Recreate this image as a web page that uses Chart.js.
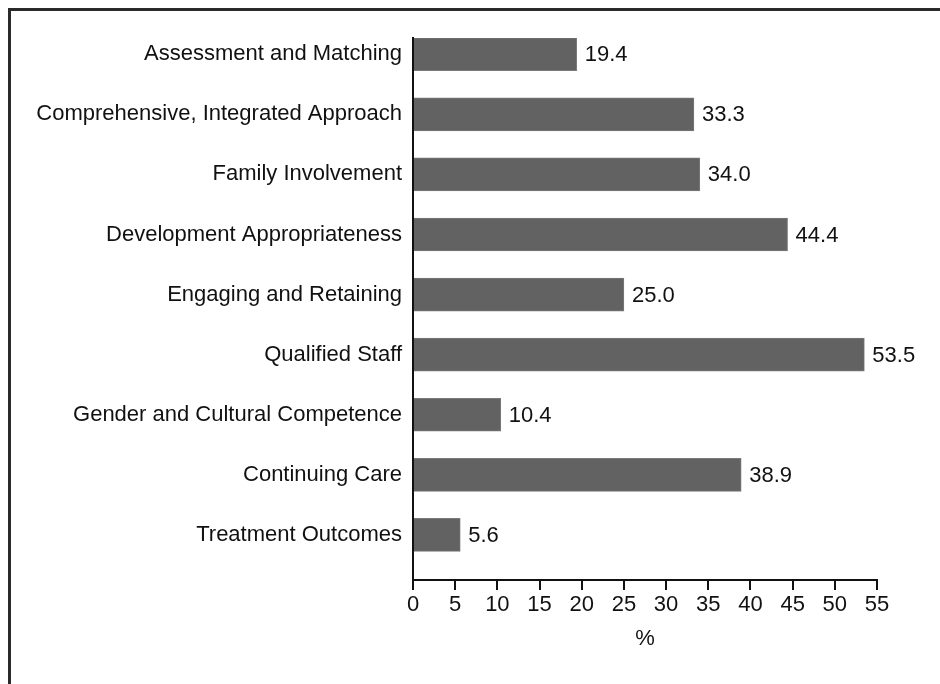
<!DOCTYPE html>
<html>
<head>
<meta charset="utf-8">
<script src="https://cdn.jsdelivr.net/npm/chart.js@4.4.1/dist/chart.umd.min.js"></script>
<style>
  html, body { margin: 0; padding: 0; background: #fff; }
  #wrap { position: relative; width: 940px; height: 684px; overflow: hidden; }
  #frame {
    position: absolute; left: 8px; top: 8px; width: 1000px; height: 1000px;
    border-top: 3px solid #2a2a2a; border-left: 3px solid #2a2a2a;
  }
  canvas { position: absolute; left: 0; top: 0; }
</style>
</head>
<body>
<div id="wrap">
  <div id="frame"></div>
  <canvas id="chart" width="940" height="684"></canvas>
</div>
<script>
// categories, top to bottom
const categories = [
  'Assessment and Matching',
  'Comprehensive, Integrated Approach',
  'Family Involvement',
  'Development Appropriateness',
  'Engaging and Retaining',
  'Qualified Staff',
  'Gender and Cultural Competence',
  'Continuing Care',
  'Treatment Outcomes'
];
const percentValues = [19.4, 33.3, 34.0, 44.4, 25.0, 53.5, 10.4, 38.9, 5.6];
const xTicks = [0, 5, 10, 15, 20, 25, 30, 35, 40, 45, 50, 55];

const FONT = "'Liberation Sans', Arial, sans-serif";

// value labels at the end of each bar
const valueLabels = {
  id: 'valueLabels',
  afterDatasetsDraw(chart) {
    const ctx = chart.ctx;
    const meta = chart.getDatasetMeta(0);
    ctx.save();
    ctx.font = '22px ' + FONT;
    ctx.fillStyle = '#111';
    ctx.textAlign = 'left';
    ctx.textBaseline = 'middle';
    meta.data.forEach((bar, i) => {
      ctx.fillText(percentValues[i].toFixed(1), bar.x + 8, bar.y + 1);
    });
    ctx.restore();
  }
};

new Chart(document.getElementById('chart'), {
  type: 'bar',
  data: {
    datasets: [{
      data: percentValues.map((v, i) => ({ x: v, y: i })),
      backgroundColor: '#626262',
      borderColor: '#7a7a7a',
      borderWidth: 1,
      barThickness: 33
    }]
  },
  options: {
    indexAxis: 'y',
    responsive: false,
    animation: false,
    layout: { padding: { top: 38, right: 63, left: 0, bottom: 0 } },
    plugins: {
      legend: { display: false },
      tooltip: { enabled: false }
    },
    scales: {
      y: {
        type: 'linear',
        reverse: true,
        offset: false,
        min: -0.27,
        max: 8.75,
        afterBuildTicks: (s) => { s.ticks = categories.map((_, i) => ({ value: i })); },
        afterFit: (s) => { s.width = 413; },
        grid: { display: false, drawTicks: false },
        border: { display: true, color: '#111', width: 2 },
        ticks: {
          color: '#111',
          padding: 11,
          font: { family: FONT, size: 22 },
          callback: (v) => categories[v]
        }
      },
      x: {
        type: 'linear',
        min: 0,
        max: 55,
        afterBuildTicks: (s) => { s.ticks = xTicks.map(v => ({ value: v })); },
        afterFit: (s) => { s.height = 104; },
        grid: {
          display: true,
          drawOnChartArea: false,
          drawTicks: true,
          tickLength: 10,
          color: '#111',
          lineWidth: 2
        },
        border: { display: true, color: '#111', width: 2 },
        ticks: {
          color: '#111',
          padding: 2,
          maxRotation: 0,
          font: { family: FONT, size: 22 }
        },
        title: {
          display: true,
          text: '%',
          color: '#111',
          font: { family: FONT, size: 22 },
          padding: { top: 0, bottom: 32 }
        }
      }
    }
  },
  plugins: [valueLabels]
});
</script>
</body>
</html>
